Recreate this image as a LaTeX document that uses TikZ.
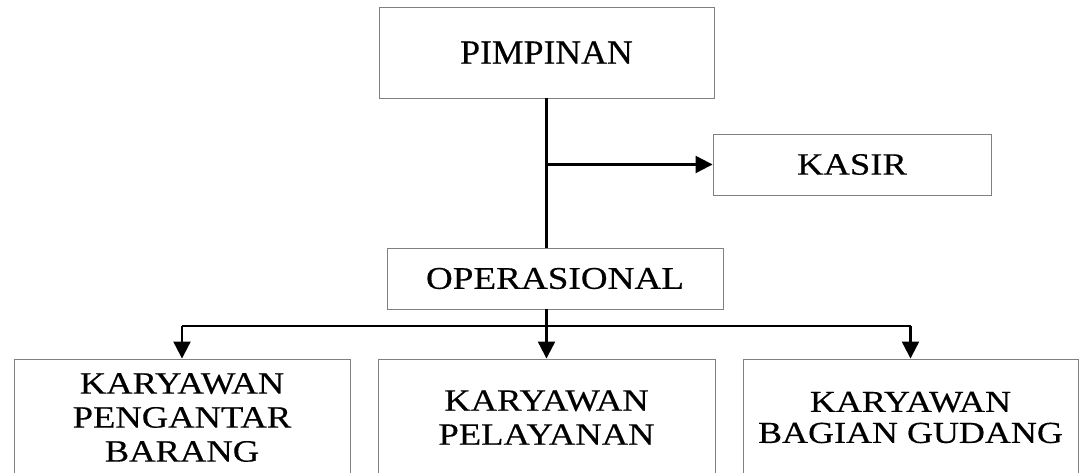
\documentclass[tikz,border=0pt]{standalone}
\usepackage{fontspec}
\setmainfont{Liberation Serif}[FakeStretch=1.18,FakeBold=0.4]
\newfontfamily\pimfont{Liberation Serif}[FakeStretch=1.05,FakeBold=0.4]
\usetikzlibrary{arrows.meta}
\tikzset{
  box/.style={draw=black!50, line width=0.9pt, rectangle, inner sep=0pt, align=center, text=black},
  conn/.style={line width=2.2pt, black},
  arr/.style={conn, -{Triangle[length=17pt,width=17pt]}},
  big/.style={font=\fontsize{31}{34}\selectfont},
}
\begin{document}
\begin{tikzpicture}[x=1pt,y=-1pt]
\useasboundingbox (0,0) rectangle (1082,473);
\clip (0,0) rectangle (1082,473);
\fill[white] (0,0) rectangle (1082,473);
\node[box, minimum width=335pt, minimum height=91pt, font=\pimfont\fontsize{34}{38}\selectfont] (pim) at (546.5,52.5) {PIMPINAN};
\node[box, minimum width=278pt, minimum height=61pt, font=\fontsize{31}{34}\selectfont] (kasir) at (852,164.5) {KASIR};
\node[box, minimum width=336pt, minimum height=61pt, font=\fontsize{31.5}{34}\selectfont] (ops) at (555,278.5) {OPERASIONAL};
\node[box, big, minimum width=336pt, minimum height=117pt] (b1) at (182,417.5) {KARYAWAN\\PENGANTAR\\BARANG};
\node[box, big, minimum width=337pt, minimum height=117pt] (b2) at (546.5,417.5) {KARYAWAN\\PELAYANAN};
\node[box, minimum width=335pt, minimum height=117pt, font=\fontsize{30.5}{31}\selectfont] (b3) at (910.5,417.5) {KARYAWAN\\BAGIAN GUDANG};
\coordinate (bus) at (546.5,326);
\draw[conn] (pim.south) -- (pim.south |- ops.north);
\draw[arr] (pim.south |- kasir.west) -- (kasir.west);
\draw[conn] (pim.south |- ops.south) -- (bus);
\draw[conn] (b1.north |- bus) -- (b3.north |- bus);
\draw[arr] (b1.north |- bus) -- (b1.north);
\draw[arr] (bus) -- (b2.north);
\draw[arr] (b3.north |- bus) -- (b3.north);
\end{tikzpicture}
\end{document}
